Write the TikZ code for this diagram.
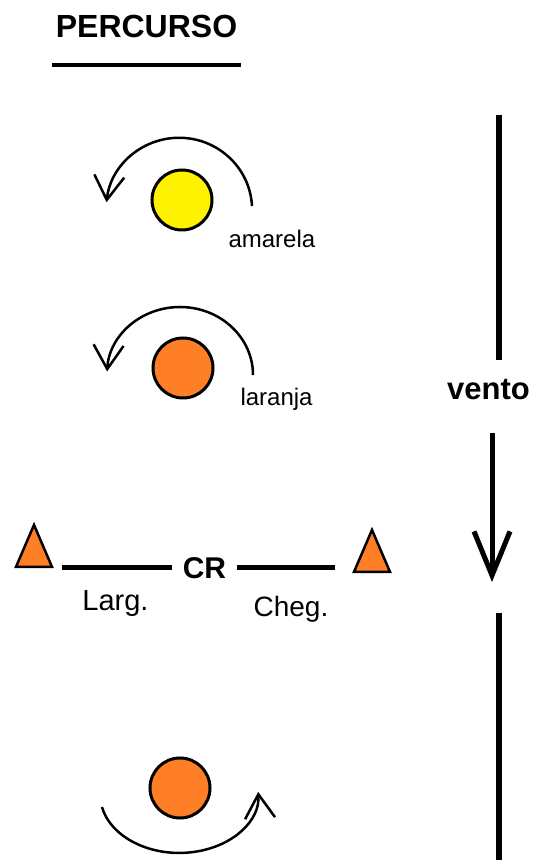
\documentclass[tikz,border=0pt]{standalone}
\usepackage{fontspec}
\setmainfont{Liberation Sans}
\usetikzlibrary{arrows.meta,shapes.geometric}
\definecolor{amarelo}{RGB}{255,242,0}
\definecolor{laranja}{RGB}{255,127,39}
\newcommand{\tam}[1]{\fontsize{#1}{#1}\selectfont}

\begin{document}
\begin{tikzpicture}[x=1pt,y=1pt,
    bola/.style={circle,draw,line width=3pt,minimum size=60pt,inner sep=0pt},
    cone/.style={isosceles triangle,shape border rotate=90,isosceles triangle stretches,
      draw,line width=2.5pt,fill=laranja,minimum width=36pt,minimum height=42pt,inner sep=0pt},
    giro/.style={line width=2.5pt,-{Straight Barb[length=24pt,width=30pt]}},
    traco/.style={line width=5pt},
    rotulo/.style={font=\tam{24}}]
    \useasboundingbox (0,0) rectangle (536,865);
        \node[font=\tam{32}\bfseries,anchor=base] (titulo) at (146.5,827) {PERCURSO};
        \draw[line width=3.5pt] ([yshift=-27pt]titulo.base west) -- ([yshift=-27pt]titulo.base east);
        \node[bola,fill=amarelo] (amarela) at (182,665) {};
        \draw[giro] ([shift={(70,-6)}]amarela.center) arc[start angle=3,end angle=174,x radius=73,y radius=72];
        \node[rotulo,anchor=base west] (tamarela) at (225,617) {amarela};
        \node[bola,fill=laranja] (laranja1) at (183,497) {};
        \draw[giro] ([shift={(70,-7)}]laranja1.center) arc[start angle=0,end angle=177,x radius=73,y radius=68];
        \node[rotulo,anchor=base west] (tlaranja) at (237,459) {laranja};
        \node[cone] (larg) at (34,310) {};
        \node[cone] (cheg) at (372,305) {};
        \node[font=\tam{30}\bfseries,inner xsep=11pt] (cr) at (204.5,297) {CR};
        \draw[traco] (cr.west) -- ([xshift=28pt]cr.west -| larg.center);
        \draw[traco] (cr.east) -- ([xshift=-37pt]cr.east -| cheg.center);
        \node[font=\tam{29},anchor=base] (tlarg) at (115.5,254) {Larg.};
        \node[font=\tam{28},anchor=base] (tcheg) at (291,248) {Cheg.};
        \node[bola,fill=laranja] (laranja2) at (180,77) {};
        \draw[giro] ([shift={(-78,-19)}]laranja2.center) arc[start angle=192,end angle=363,x radius=79,y radius=58];
        \coordinate (ventoTopo) at (499,750);
        \coordinate (ventoPe) at (499,5);
        \coordinate (ventoSeta) at (492,283);
        \node[font=\tam{31}\bfseries,anchor=base] (vento) at (488.5,465) {vento};
        \draw[line width=6pt] (ventoTopo) -- ([yshift=40pt]ventoTopo |- vento.base);
        \draw[line width=5pt,-{Straight Barb[length=44pt,width=36pt]}] ([yshift=-33pt]ventoSeta |- vento.base) -- (ventoSeta);
        \draw[line width=6pt] (ventoPe) -- ([yshift=-31pt]ventoPe |- ventoSeta);
\end{tikzpicture}
\end{document}
